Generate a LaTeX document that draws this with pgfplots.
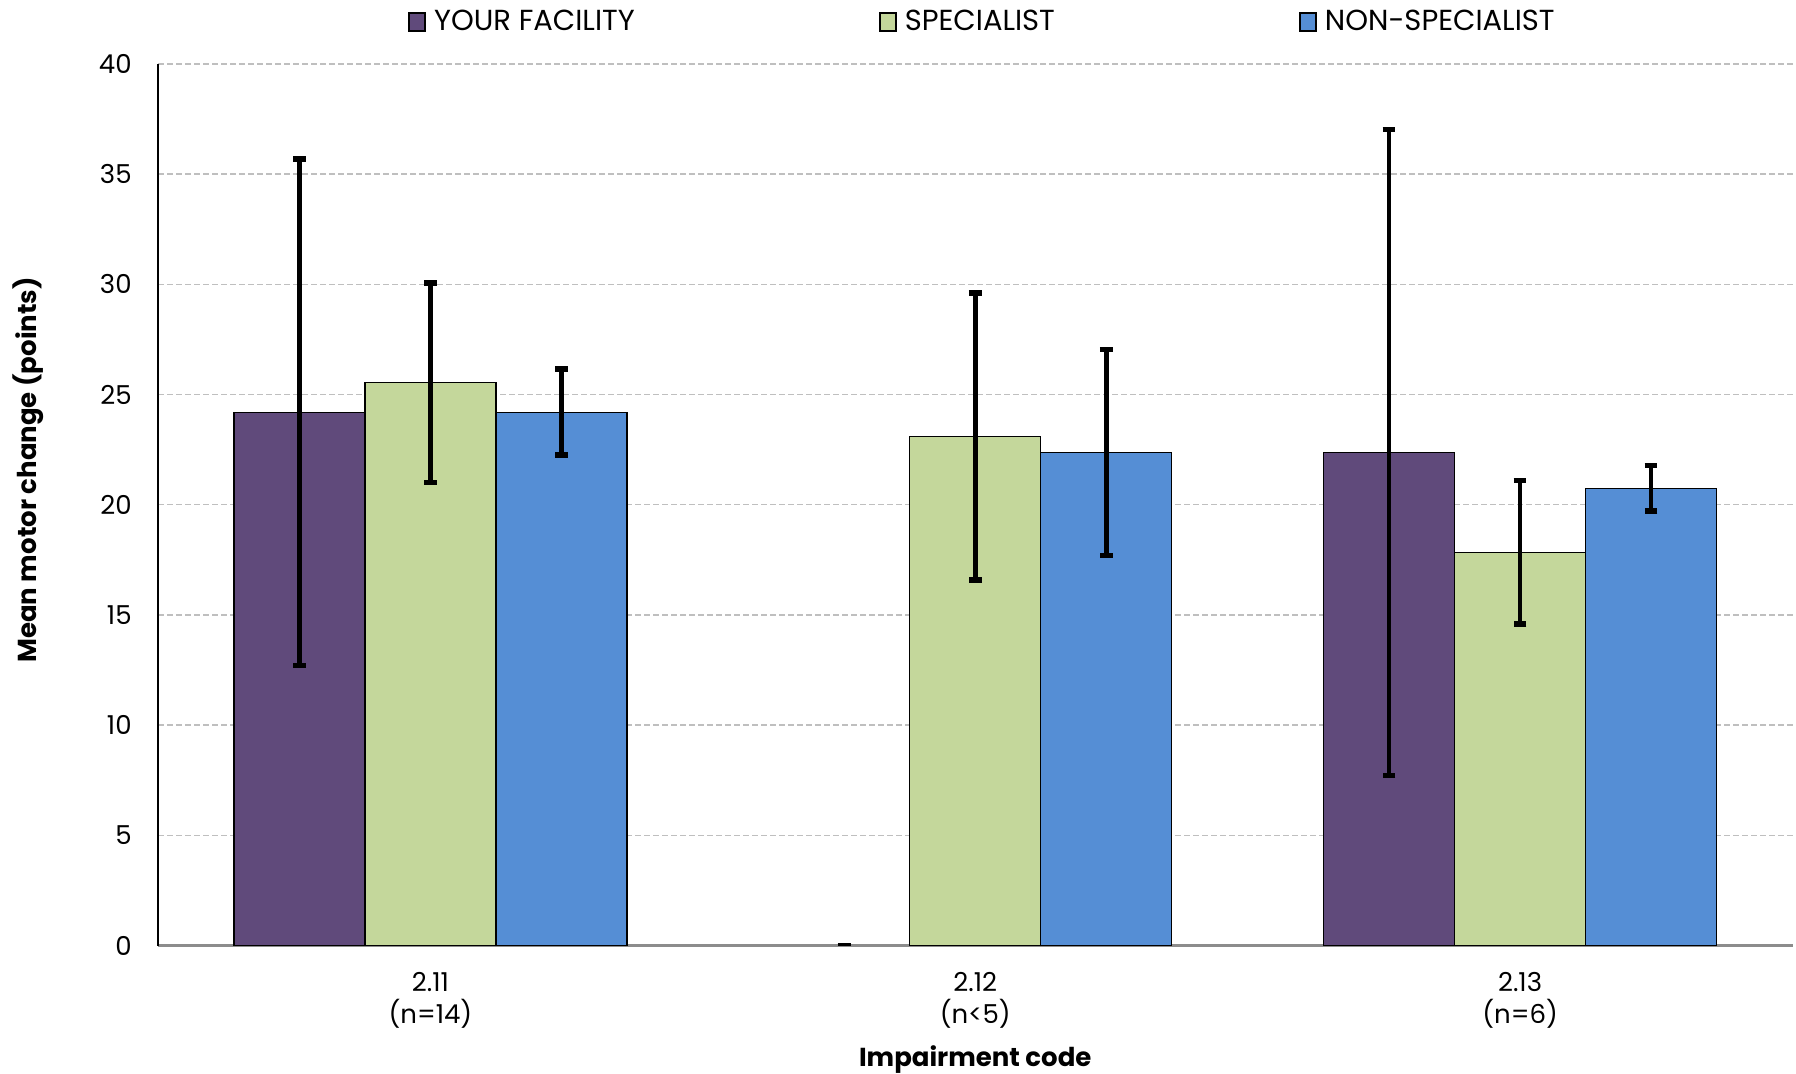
\documentclass[border=0pt]{standalone}
\usepackage{fontspec}
\setmainfont{Poppins}
\usepackage{pgfplots}
\pgfplotsset{compat=1.18}
\definecolor{cpurple}{HTML}{604A7B}
\definecolor{cgreen}{HTML}{C4D79B}
\definecolor{cblue}{HTML}{558ED5}
\definecolor{cgrid}{HTML}{BFBFBF}
\definecolor{caxis}{HTML}{8C8C8C}
\begin{document}
\begin{tikzpicture}
\path[use as bounding box] (0,0) rectangle (898bp,537bp);
\begin{axis}[
  at={(79bp,64.2bp)}, anchor=south west,
  scale only axis, width=817.25bp, height=440.8bp,
  xmin=0, xmax=3, ymin=0, ymax=40,
  ybar=0pt, bar width=65.5bp,
  xtick={0.5,1.5,2.5},
  xticklabels={{2.11\\(n=14)},{2.12\\(n<5)},{2.13\\(n=6)}},
  ytick={0,5,...,40},
  major tick length=0pt,
  axis x line*=bottom, axis y line*=left,
  x axis line style={caxis, line width=1.2bp, -},
  y axis line style={black, line width=0.8bp, -},
  ymajorgrids,
  major grid style={cgrid, line width=0.7bp, dash pattern=on 3bp off 1.5bp},
  /pgf/number format/assume math mode=true,
  yticklabel style={anchor=east, inner sep=0pt, xshift=-13bp, font=\fontsize{13bp}{16bp}\selectfont},
  xticklabel style={anchor=north, inner sep=0pt, yshift=-13bp, align=center, font=\fontsize{13bp}{16bp}\selectfont},
  xlabel={Impairment code},
  ylabel={Mean motor change (points)},
  xlabel style={at={(axis description cs:0.5,-0.129)}, anchor=center, font=\fontsize{13bp}{16bp}\selectfont\bfseries},
  ylabel style={at={(axis description cs:-0.0792,0.5395)}, anchor=center, rotate=0, font=\fontsize{13bp}{16bp}\selectfont\bfseries},
  legend columns=3,
  legend style={at={(axis description cs:0.1528,1.0475)}, anchor=west, draw=none, fill=none, inner sep=0pt,
    font=\fontsize{14.5bp}{16bp}\selectfont,
    nodes={inner sep=0pt},
    /tikz/every even column/.append style={column sep=122bp},
    /tikz/every odd column/.append style={column sep=4bp}},
  error bars/error bar style={line width=2.4bp, black},
  error bars/error mark options={black, line width=2.8bp, mark size=3.2bp, rotate=90},
]
\addplot[fill=cpurple, draw=black, line width=0.6bp, bar shift=-65.5bp,
  legend image code/.code={\draw[fill=cpurple, draw=black, line width=1bp] (0bp,-4.4bp) rectangle (8bp,4.4bp);},
  error bars/.cd, y dir=both, y explicit]
  coordinates {(0.5,24.2) +- (0,11.5) (2.5,22.37) +- (0,14.66)};
\addplot[fill=cgreen, draw=black, line width=0.6bp, bar shift=0bp,
  legend image code/.code={\draw[fill=cgreen, draw=black, line width=1bp] (0bp,-4.4bp) rectangle (8bp,4.4bp);},
  error bars/.cd, y dir=both, y explicit]
  coordinates {(0.5,25.54) +- (0,4.52) (1.5,23.1) +- (0,6.52) (2.5,17.85) +- (0,3.26)};
\addplot[fill=cblue, draw=black, line width=0.6bp, bar shift=65.5bp,
  legend image code/.code={\draw[fill=cblue, draw=black, line width=1bp] (0bp,-4.4bp) rectangle (8bp,4.4bp);},
  error bars/.cd, y dir=both, y explicit]
  coordinates {(0.5,24.2) +- (0,1.95) (1.5,22.37) +- (0,4.67) (2.5,20.75) +- (0,1.04)};
\addplot[draw=none, fill=none, bar shift=-65.5bp, forget plot,
  error bars/.cd, y dir=both, y explicit]
  coordinates {(1.5,0) +- (0,0)};
\legend{YOUR FACILITY, SPECIALIST, NON-SPECIALIST}
\end{axis}
\end{tikzpicture}
\end{document}
